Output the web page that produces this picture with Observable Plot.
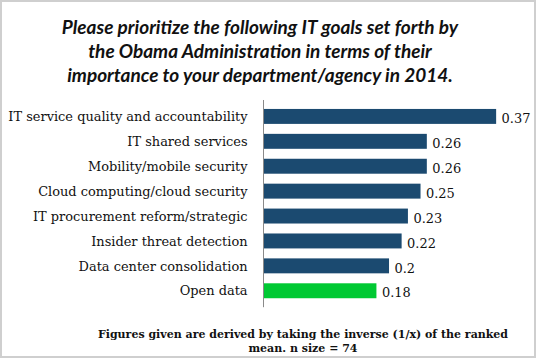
<!DOCTYPE html>
<html>
<head>
<meta charset="utf-8">
<script src="https://cdn.jsdelivr.net/npm/d3@7"></script>
<script src="https://cdn.jsdelivr.net/npm/@observablehq/plot@0.6"></script>
<style>
  html, body { margin: 0; padding: 0; background: #fff; }
  #frame { position: relative; width: 536px; height: 358px; box-sizing: border-box; border: 2px solid #cfcfcf; overflow: hidden; }
  #title { position: absolute; left: -8px; top: 13px; width: 532px; text-align: center; font-family: Lato, sans-serif; font-weight: bold; font-style: italic; font-size: 19px; line-height: 24px; color: #111; }
  #chart { position: absolute; left: -2px; top: 94px; }
  #note { position: absolute; left: 86px; top: 326px; width: 430px; text-align: center; font-family: "DejaVu Serif", serif; font-weight: bold; font-size: 11px; line-height: 14px; color: #111; }
</style>
</head>
<body>
<div id="frame">
  <div id="title">Please prioritize the following IT goals set forth by<br>the Obama Administration in terms of their<br>importance to your department/agency in 2014.</div>
  <div id="chart"></div>
  <div id="note">Figures given are derived by taking the inverse (1/x) of the ranked<br>mean. n size = 74</div>
</div>
<script>
const categories = [
  "IT service quality and accountability",
  "IT shared services",
  "Mobility/mobile security",
  "Cloud computing/cloud security",
  "IT procurement reform/strategic",
  "Insider threat detection",
  "Data center consolidation",
  "Open data"
];
const values = [0.37, 0.26, 0.26, 0.25, 0.23, 0.22, 0.2, 0.18];
const valueLabels = ["0.37", "0.26", "0.26", "0.25", "0.23", "0.22", "0.2", "0.18"];
const highlight = ["Open data"];

const data = categories.map((c, i) => ({category: c, value: values[i], label: valueLabels[i]}));

const chart = Plot.plot({
  width: 536,
  height: 216,
  marginLeft: 264,
  marginRight: 38,
  marginTop: 0,
  marginBottom: 0,
  style: {fontFamily: "'DejaVu Serif', serif", fontSize: "13px", color: "#111", background: "transparent"},
  x: {domain: [0, 0.37], axis: null},
  y: {domain: categories, paddingInner: 0.42, paddingOuter: 0.42, label: null, tickSize: 0, tickPadding: 16},
  marks: [
    Plot.barX(data, {
      y: "category", x: "value",
      fill: d => highlight.includes(d.category) ? "#00c933" : "#1b4a70"
    }),
    Plot.ruleX([0], {stroke: "#8a8a8a", strokeWidth: 1, insetTop: 4, insetBottom: 4}),
    Plot.text(data, {
      y: "category", x: "value", text: "label",
      textAnchor: "start", dx: 5, dy: 2,
      fontSize: 13, fill: "#111"
    })
  ]
});
document.getElementById("chart").appendChild(chart);
</script>
</body>
</html>
